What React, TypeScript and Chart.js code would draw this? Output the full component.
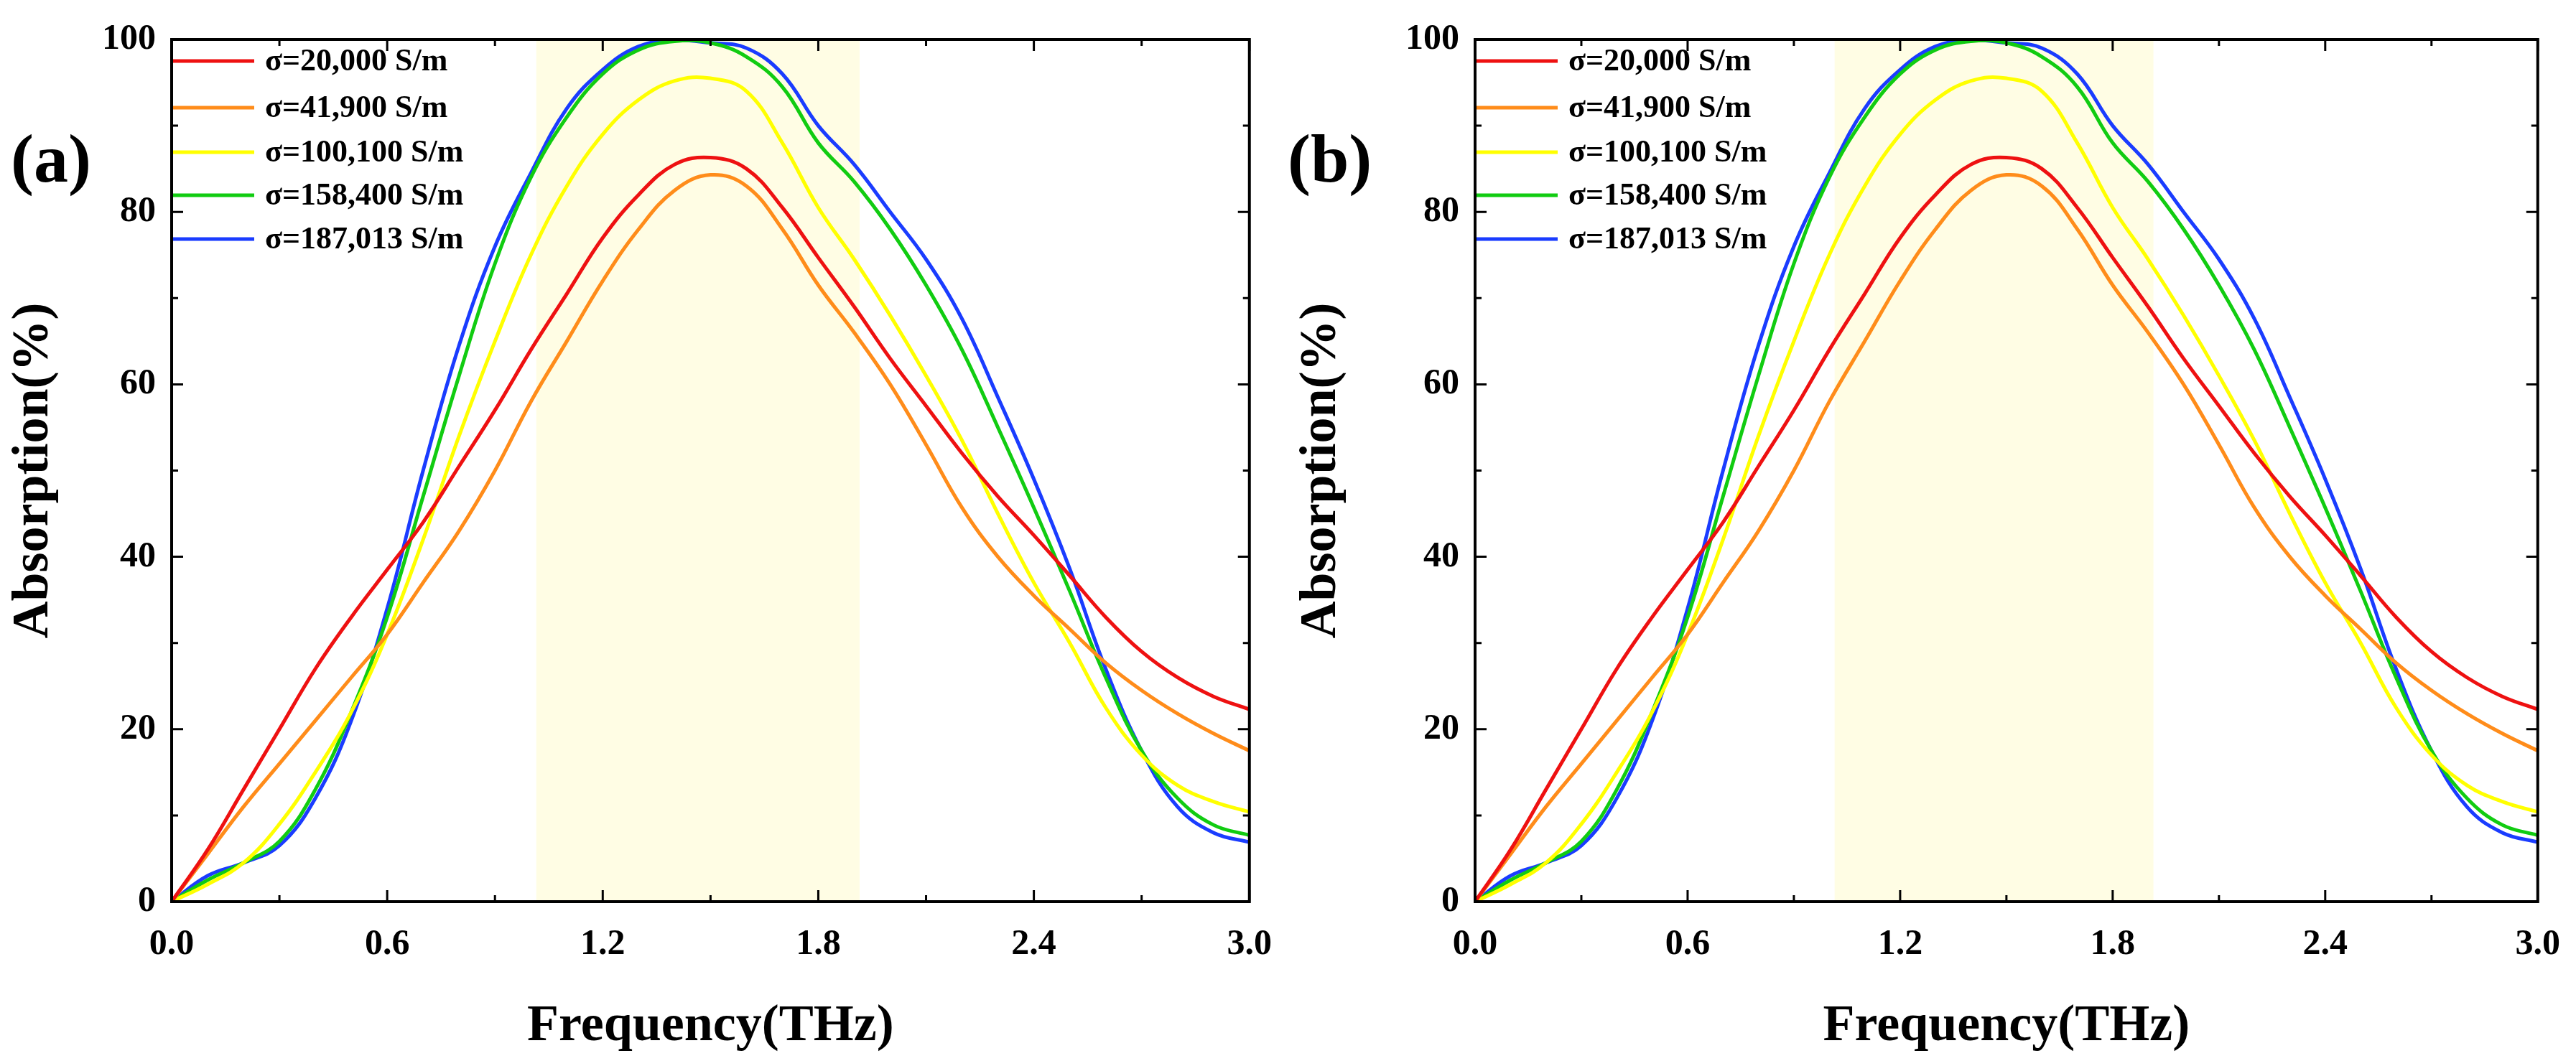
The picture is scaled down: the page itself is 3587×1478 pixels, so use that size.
import React, { useEffect, useRef } from "react";
import { Chart, registerables } from "chart.js";
Chart.register(...registerables);

const freq = [0,0.1,0.2,0.3,0.4,0.5,0.6,0.7,0.8,0.9,1.0,1.1,1.2,1.3,1.4,1.5,1.6,1.7,1.8,1.9,2.0,2.1,2.2,2.3,2.4,2.5,2.6,2.7,2.8,2.9,3.0];
const s20000 = [0,6,13,20,27,33,38.5,44,50.5,57,64,70.5,77,82,85.5,86.3,85,80.5,74.7,69,63,57.5,52,47,42.5,37.8,33,29,26,23.8,22.3];
const s41900 = [0,5.5,11,16,21,26,31,37,43,50,58,65,72,78,82.5,84.3,83,78,71.5,66,60,53,45.7,40,35.5,31.6,27.7,24.5,21.8,19.5,17.5];
const s100100 = [0,2,4.5,9,15,22,31,42,54,65,75,83,89,93,95.2,95.5,94,88,80.5,74.5,68,61,53.5,45,37,30,22.5,17,13.5,11.6,10.4];
const s158400 = [0,2.5,4.5,7,13,22,33,47,61,74,84,91,96,98.8,99.8,99.6,98,94.5,88,83.5,78,71.5,64,55,45.7,36,26,17.5,12,8.9,7.7];
const s187013 = [0,3,4.5,6.5,12,21,34,50,64.5,76,84.5,92,96.5,99.2,99.9,99.6,99,96,90,85.5,80,74.5,67.6,58.5,49,38.6,27,17.5,11,8,6.9];
const labels = ["σ=20,000 S/m","σ=41,900 S/m","σ=100,100 S/m","σ=158,400 S/m","σ=187,013 S/m"];
const colors = ["#ee1111","#ff8c1a","#ffff00","#11cc11","#1a3cff"];
const series = [s20000, s41900, s100100, s158400, s187013];
const band = [1.015, 1.915];
const xTicks = [0, 0.6, 1.2, 1.8, 2.4, 3.0];

const FONT = "'Liberation Serif', 'Times New Roman', serif";

function Panel({ left, width, yAxisW, rightPad, tag, tagLeft }: any) {
  const ref = useRef<HTMLCanvasElement>(null);
  useEffect(() => {
    const plugin = {
      id: "deco",
      beforeDatasetsDraw(c: any) {
        const { ctx, chartArea: a, scales } = c;
        const x1 = scales.x.getPixelForValue(band[0]);
        const x2 = scales.x.getPixelForValue(band[1]);
        ctx.save();
        ctx.fillStyle = "#fffde4";
        ctx.fillRect(x1, a.top, x2 - x1, a.bottom - a.top);
        ctx.restore();
      },
      afterDraw(c: any) {
        const { ctx, chartArea: a, scales } = c;
        ctx.save();
        ctx.strokeStyle = "#000";
        ctx.lineWidth = 3;
        ctx.beginPath();
        for (let v = 0; v <= 3.0001; v += 0.3) {
          const x = scales.x.getPixelForValue(v);
          const major = Math.abs(v / 0.6 - Math.round(v / 0.6)) < 1e-6;
          const L = major ? 16 : 9;
          ctx.moveTo(x, a.bottom); ctx.lineTo(x, a.bottom - L);
          ctx.moveTo(x, a.top); ctx.lineTo(x, a.top + L);
        }
        for (let v = 0; v <= 100; v += 10) {
          const y = scales.y.getPixelForValue(v);
          const L = v % 20 === 0 ? 16 : 9;
          ctx.moveTo(a.left, y); ctx.lineTo(a.left + L, y);
          ctx.moveTo(a.right, y); ctx.lineTo(a.right - L, y);
        }
        ctx.stroke();
        ctx.lineWidth = 4;
        ctx.strokeRect(a.left, a.top, a.right - a.left, a.bottom - a.top);
        ctx.font = `bold 44px ${FONT}`;
        ctx.textBaseline = "middle";
        const rows = [85, 150, 212, 272, 333];
        labels.forEach((lab, i) => {
          const y = rows[i] + a.top - 55;
          ctx.strokeStyle = colors[i];
          ctx.lineWidth = 5;
          ctx.beginPath();
          ctx.moveTo(a.left + 2, y); ctx.lineTo(a.left + 115, y);
          ctx.stroke();
          ctx.fillStyle = "#000";
          ctx.fillText(lab, a.left + 130, y + 2);
        });
        ctx.restore();
      },
    };
    const chart = new Chart(ref.current!, {
      type: "line",
      data: {
        datasets: series.map((s, i) => ({
          label: labels[i],
          data: freq.map((f, j) => ({ x: f, y: s[j] })),
          borderColor: colors[i],
          borderWidth: 5,
          pointRadius: 0,
          tension: 0.4,
        })),
      },
      options: {
        animation: false,
        responsive: false,
        layout: { padding: { top: 55, right: rightPad, left: 0, bottom: 0 } },
        plugins: { legend: { display: false }, tooltip: { enabled: false } },
        scales: {
          x: {
            type: "linear", min: 0, max: 3,
            afterBuildTicks: (s: any) => { s.ticks = xTicks.map((v) => ({ value: v })); },
            afterFit: (s: any) => { s.height = 222; },
            grid: { display: false }, border: { display: false },
            ticks: { color: "#000", padding: 22, font: { family: FONT, size: 50, weight: "bold" }, callback: (v: any) => Number(v).toFixed(1), maxRotation: 0 },
            title: { display: true, text: "Frequency(THz)", color: "#000", padding: { top: 18 }, font: { family: FONT, size: 72, weight: "bold" } },
          },
          y: {
            min: 0, max: 100,
            afterFit: (s: any) => { s.width = yAxisW; },
            grid: { display: false }, border: { display: false },
            ticks: { color: "#000", stepSize: 20, padding: 14, font: { family: FONT, size: 50, weight: "bold" } },
            title: { display: true, text: "Absorption(%)", color: "#000", padding: { bottom: 14 }, font: { family: FONT, size: 72, weight: "bold" } },
          },
        },
      },
      plugins: [plugin],
    } as any);
    return () => chart.destroy();
  }, []);
  return (
    <div style={{ position: "absolute", left, top: 0, width, height: 1478 }}>
      <canvas ref={ref} width={width} height={1478} style={{ display: "block" }} />
      <div style={{ position: "absolute", left: tagLeft, top: 165, font: `bold 96px ${FONT}`, color: "#000" }}>{tag}</div>
    </div>
  );
}

export default function App() {
  useEffect(() => { document.body.style.margin = "0"; }, []);
  return (
    <div style={{ position: "relative", width: 3587, height: 1478, background: "#fff" }}>
      <Panel left={0} width={1793} yAxisW={239} rightPad={52} tag="(a)" tagLeft={15} />
      <Panel left={1793} width={1794} yAxisW={261} rightPad={31} tag="(b)" tagLeft={0} />
    </div>
  );
}
